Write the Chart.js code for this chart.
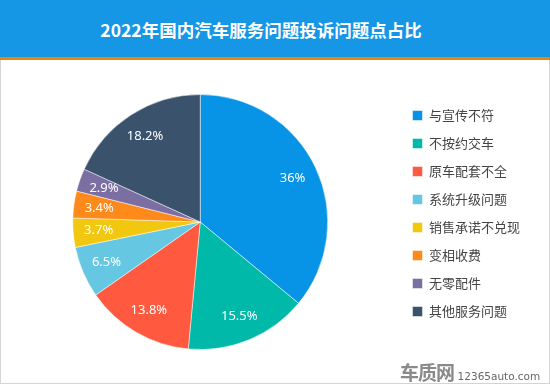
<!DOCTYPE html>
<html>
<head>
<meta charset="utf-8">
<script src="https://cdn.jsdelivr.net/npm/chart.js@4.4.0/dist/chart.umd.min.js"></script>
<style>
  html, body { margin: 0; padding: 0; background: #fff; }
  #page { position: relative; width: 550px; height: 386px; overflow: hidden; font-family: "Noto Sans CJK SC", "Noto Sans", sans-serif; }
  #title { position: absolute; left: 0; top: 0; width: 550px; height: 57px; background: #1597e6; border-bottom: 3px solid #f08300; }
  #title span { position: absolute; left: 261px; top: 29px; transform: translate(-50%, -50%); color: #fff; font-size: 17.5px; font-weight: bold; white-space: nowrap; }
  #frame { position: absolute; left: 0; top: 60px; width: 548px; height: 323px; border: 1px solid #d4d4d4; border-top: none; }
  #wrap { position: absolute; left: 1px; top: 60px; width: 547px; height: 323px; }
  #mark { position: absolute; left: 400px; top: 358px; color: #8a8a8a; white-space: nowrap; }
  #mark b { font-size: 19px; letter-spacing: -1px; }
  #mark i { font-style: normal; font-size: 10.5px; font-family: "DejaVu Sans", sans-serif; color: #666; }
</style>
</head>
<body>
<div id="page">
  <div id="title"><span>2022年国内汽车服务问题投诉问题点占比</span></div>
  <div id="frame"></div>
  <div id="wrap"><canvas id="myChart"></canvas></div>
  <div id="mark"><b>车质网</b> <i>12365auto.com</i></div>
</div>
<script>
var categories = ['与宣传不符', '不按约交车', '原车配套不全', '系统升级问题', '销售承诺不兑现', '变相收费', '无零配件', '其他服务问题']
var shares = [36, 15.5, 13.8, 6.5, 3.7, 3.4, 2.9, 18.2]
var colors = ['#0894e6', '#00b9a9', '#ff5a3f', '#66c7e3', '#f2c70f', '#fe8a1b', '#7a6ea3', '#3a526c']

// white percentage text inside each slice
var sliceLabels = {
  id: 'sliceLabels',
  afterDatasetsDraw(chart) {
    var ctx = chart.ctx
    var meta = chart.getDatasetMeta(0)
    ctx.save()
    ctx.fillStyle = '#fff'
    ctx.font = '13px "Noto Sans", "DejaVu Sans", sans-serif'
    ctx.textAlign = 'center'
    ctx.textBaseline = 'middle'
    meta.data.forEach(function (arc, i) {
      var p = arc.getProps(['x', 'y', 'startAngle', 'endAngle', 'outerRadius'], true)
      var mid = (p.startAngle + p.endAngle) / 2
      var r = p.outerRadius * 0.8
      ctx.fillText(shares[i] + '%', p.x + Math.cos(mid) * r, p.y + Math.sin(mid) * r)
    })
    ctx.restore()
  }
}

var ctx = document.getElementById('myChart')
var myChart = new Chart(ctx, {
  type: 'pie',
  data: {
    labels: categories,
    datasets: [
      {
        data: shares,
        backgroundColor: colors,
        borderColor: 'rgba(255,255,255,0.5)',
        borderWidth: 1
      }
    ]
  },
  options: {
    responsive: true,
    maintainAspectRatio: false,
    animation: false,
    layout: { padding: { top: 34, bottom: 33, left: 2, right: 18 } },
    plugins: {
      tooltip: { enabled: false },
      legend: {
        position: 'right',
        align: 'start',
        labels: {
          boxWidth: 10,
          boxHeight: 10,
          padding: 15,
          color: '#444',
          font: { size: 13, family: '"Noto Sans CJK SC", sans-serif' }
        }
      }
    }
  },
  plugins: [sliceLabels]
})
</script>
</body>
</html>
